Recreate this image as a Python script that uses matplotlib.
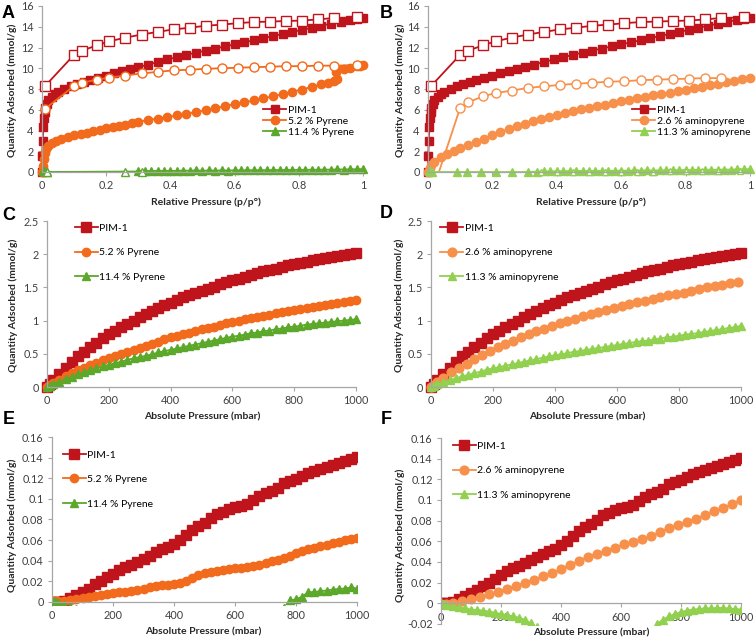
import matplotlib
matplotlib.use("Agg")
import matplotlib.pyplot as plt

plt.rcParams['font.family'] = ['Lato', 'DejaVu Sans']

RED = '#C0141C'
ORANGE = '#F26A1B'
GREEN = '#5BA82A'
LORANGE = '#F7904A'
LGREEN = '#92D050'
AXIS = '#A6A6A6'

# ---- N2 isotherms (panels A, B), relative pressure p/p0 ----
pim_ads_p = [0, 0.001, 0.002, 0.004, 0.006, 0.008, 0.01, 0.015, 0.02, 0.03, 0.04, 0.05,
             0.07, 0.09, 0.11, 0.13, 0.15, 0.175, 0.2, 0.225, 0.25, 0.275, 0.3, 0.33,
             0.36, 0.39, 0.42, 0.45, 0.48, 0.51, 0.54, 0.57, 0.6, 0.63, 0.66, 0.69, 0.72,
             0.75, 0.78, 0.81, 0.84, 0.87, 0.9, 0.93, 0.96, 0.98, 1.0]
pim_ads_q = [0, 1.5, 3.0, 4.3, 5.2, 5.8, 6.2, 6.6, 6.9, 7.2, 7.5, 7.7, 8.0, 8.3, 8.5, 8.7,
             8.9, 9.1, 9.3, 9.5, 9.7, 9.9, 10.1, 10.35, 10.6, 10.85, 11.05, 11.3, 11.5,
             11.7, 11.9, 12.1, 12.3, 12.5, 12.7, 12.9, 13.1, 13.3, 13.5, 13.7, 13.9, 14.1,
             14.3, 14.5, 14.65, 14.75, 14.85]
pim_des_p = [0.01, 0.1, 0.125, 0.17, 0.21, 0.26, 0.31, 0.36, 0.41, 0.46, 0.51, 0.56, 0.61,
             0.66, 0.71, 0.76, 0.81, 0.86, 0.91, 0.98]
pim_des_q = [8.3, 11.3, 11.7, 12.2, 12.6, 12.95, 13.25, 13.5, 13.75, 13.9, 14.1, 14.2,
             14.35, 14.45, 14.5, 14.55, 14.6, 14.7, 14.85, 14.9]

pyr52_ads_p = [0, 0.002, 0.005, 0.008, 0.012, 0.02, 0.03, 0.045, 0.06, 0.08, 0.1, 0.12,
               0.14, 0.16, 0.18, 0.2, 0.22, 0.24, 0.26, 0.28, 0.3, 0.33, 0.36, 0.39, 0.42,
               0.45, 0.48, 0.51, 0.54, 0.57, 0.6, 0.63, 0.66, 0.69, 0.72, 0.75, 0.78, 0.81,
               0.84, 0.87, 0.89, 0.91, 0.92, 0.915, 0.92, 0.94, 0.96, 0.98, 0.99, 1.0]
pyr52_ads_q = [0, 0.6, 1.3, 1.8, 2.2, 2.5, 2.75, 3.0, 3.2, 3.4, 3.6, 3.7, 3.8, 3.95, 4.05,
               4.2, 4.3, 4.45, 4.55, 4.7, 4.85, 5.0, 5.15, 5.3, 5.45, 5.6, 5.8, 5.95, 6.15,
               6.35, 6.55, 6.7, 6.9, 7.1, 7.3, 7.5, 7.75, 7.95, 8.2, 8.45, 8.6, 8.8, 9.0,
               9.6, 9.9, 9.95, 10.05, 10.2, 10.25, 10.3]
pyr52_des_p = [0.01, 0.1, 0.125, 0.17, 0.21, 0.26, 0.31, 0.36, 0.41, 0.46, 0.51, 0.56,
               0.61, 0.66, 0.71, 0.76, 0.81, 0.86, 0.91, 0.98]
pyr52_des_q = [6.1, 8.3, 8.6, 8.9, 9.1, 9.3, 9.5, 9.65, 9.8, 9.85, 9.95, 10.0, 10.05,
               10.1, 10.15, 10.2, 10.2, 10.25, 10.25, 10.3]

pyr114_ads_p = [0.002, 0.006, 0.01, 0.015, 0.3, 0.32, 0.34, 0.36, 0.38, 0.4, 0.42, 0.44,
                0.46, 0.48, 0.5, 0.52, 0.54, 0.56, 0.58, 0.6, 0.62, 0.64, 0.66, 0.68, 0.7,
                0.72, 0.74, 0.76, 0.78, 0.8, 0.82, 0.84, 0.86, 0.88, 0.9, 0.92, 0.94, 0.96,
                0.98, 1.0]
pyr114_ads_q = [0.1, 0.05, 0.05, 0.0, 0.05, 0.1, 0.08, 0.12, 0.1, 0.12, 0.1, 0.14, 0.12,
                0.15, 0.12, 0.15, 0.13, 0.16, 0.14, 0.17, 0.15, 0.18, 0.16, 0.18, 0.17,
                0.2, 0.18, 0.21, 0.19, 0.22, 0.2, 0.23, 0.21, 0.24, 0.22, 0.25, 0.24, 0.27,
                0.26, 0.28]
pyr114_des_p = [0.015, 0.26, 0.31]
pyr114_des_q = [0.0, 0.0, 0.0]

amp26_ads_p = [0, 0.005, 0.01, 0.02, 0.04, 0.06, 0.08, 0.1, 0.125, 0.15, 0.175, 0.2,
               0.225, 0.25, 0.275, 0.3, 0.325, 0.35, 0.375, 0.4, 0.425, 0.45, 0.475, 0.5,
               0.525, 0.55, 0.575, 0.6, 0.625, 0.65, 0.675, 0.7, 0.725, 0.75, 0.775, 0.8,
               0.825, 0.85, 0.875, 0.9, 0.925, 0.95, 0.975, 1.0]
amp26_ads_q = [0, 0.4, 0.7, 1.0, 1.4, 1.7, 2.0, 2.3, 2.6, 2.9, 3.2, 3.55, 3.85, 4.15, 4.4,
               4.65, 4.9, 5.1, 5.3, 5.5, 5.7, 5.9, 6.05, 6.2, 6.35, 6.5, 6.65, 6.8, 6.95,
               7.1, 7.25, 7.4, 7.5, 7.65, 7.8, 7.95, 8.1, 8.2, 8.35, 8.5, 8.65, 8.8, 8.95,
               9.05]
amp26_des_p = [0.035, 0.1, 0.125, 0.17, 0.21, 0.26, 0.31, 0.36, 0.41, 0.46, 0.51, 0.56,
               0.61, 0.66, 0.71, 0.76, 0.81, 0.86, 0.91]
amp26_des_q = [0.1, 6.2, 6.7, 7.3, 7.6, 7.85, 8.1, 8.25, 8.4, 8.5, 8.6, 8.7, 8.75, 8.85,
               8.9, 8.95, 9.0, 9.05, 9.05]

amp113_ads_p = [0.003, 0.007, 0.012, 0.09, 0.12, 0.165, 0.21, 0.26, 0.31, 0.34, 0.36,
                0.38, 0.4, 0.42, 0.44, 0.46, 0.48, 0.5, 0.52, 0.54, 0.56, 0.58, 0.6, 0.62,
                0.64, 0.66, 0.68, 0.7, 0.72, 0.74, 0.76, 0.78, 0.8, 0.82, 0.84, 0.86, 0.88,
                0.9, 0.92, 0.94, 0.96, 0.98, 1.0]
amp113_ads_q = [0.1, 0.05, 0.0, 0.0, 0.0, 0.0, 0.0, 0.0, 0.0, 0.03, 0.06, 0.05, 0.08,
                0.06, 0.1, 0.08, 0.11, 0.09, 0.12, 0.1, 0.13, 0.11, 0.14, 0.12, 0.15, 0.13,
                0.16, 0.14, 0.17, 0.15, 0.18, 0.17, 0.2, 0.18, 0.21, 0.2, 0.23, 0.21, 0.24,
                0.23, 0.26, 0.25, 0.28]
amp113_des_p = [0.35, 0.4, 0.45, 0.5, 0.55, 0.6, 0.65, 0.7, 0.75, 0.8, 0.85, 0.9, 0.97]
amp113_des_q = [0.0, 0.0, 0.02, 0.02, 0.03, 0.03, 0.04, 0.04, 0.05, 0.05, 0.06, 0.06, 0.08]

# ---- CO2 / CH4 isotherms (panels C-F), absolute pressure in mbar ----
p_grid = [0, 10, 20, 40, 60, 80, 100, 120, 140, 160, 180, 200, 220, 240, 260, 280, 300,
          320, 340, 360, 380, 400, 420, 440, 460, 480, 500, 520, 540, 560, 580, 600, 620,
          640, 660, 680, 700, 720, 740, 760, 780, 800, 820, 840, 860, 880, 900, 920, 940,
          960, 980, 1000]

co2_pim = [0, 0.05, 0.1, 0.2, 0.29, 0.38, 0.46, 0.53, 0.6, 0.67, 0.74, 0.8, 0.85, 0.9,
           0.95, 1.0, 1.05, 1.1, 1.14, 1.19, 1.23, 1.27, 1.31, 1.35, 1.38, 1.42, 1.45,
           1.48, 1.51, 1.55, 1.58, 1.61, 1.63, 1.66, 1.69, 1.71, 1.74, 1.76, 1.78, 1.81,
           1.83, 1.85, 1.87, 1.89, 1.91, 1.93, 1.95, 1.96, 1.98, 1.99, 2.01, 2.02]
co2_pyr52 = [0, 0.03, 0.06, 0.11, 0.16, 0.21, 0.25, 0.29, 0.33, 0.36, 0.4, 0.43, 0.47, 0.5,
             0.53, 0.56, 0.59, 0.62, 0.65, 0.68, 0.72, 0.75, 0.77, 0.8, 0.82, 0.85, 0.87,
             0.89, 0.91, 0.94, 0.96, 0.98, 1.0, 1.02, 1.04, 1.05, 1.07, 1.09, 1.11, 1.13,
             1.15, 1.16, 1.18, 1.19, 1.21, 1.22, 1.24, 1.25, 1.27, 1.28, 1.3, 1.31]
co2_pyr114 = [0, 0.02, 0.04, 0.08, 0.12, 0.15, 0.19, 0.22, 0.25, 0.28, 0.31, 0.33, 0.36,
              0.38, 0.41, 0.43, 0.45, 0.47, 0.49, 0.52, 0.54, 0.56, 0.58, 0.6, 0.62, 0.64,
              0.66, 0.68, 0.7, 0.72, 0.74, 0.76, 0.77, 0.79, 0.81, 0.82, 0.84, 0.85, 0.87,
              0.88, 0.9, 0.91, 0.92, 0.94, 0.95, 0.96, 0.97, 0.98, 0.99, 1.0, 1.01, 1.02]
co2_amp113 = [0, 0.02, 0.04, 0.07, 0.1, 0.13, 0.16, 0.18, 0.21, 0.23, 0.26, 0.28, 0.3,
              0.32, 0.34, 0.36, 0.38, 0.4, 0.42, 0.44, 0.46, 0.48, 0.49, 0.51, 0.53, 0.54,
              0.56, 0.57, 0.59, 0.6, 0.62, 0.63, 0.65, 0.66, 0.68, 0.69, 0.7, 0.72, 0.73,
              0.75, 0.76, 0.77, 0.79, 0.8, 0.81, 0.83, 0.84, 0.86, 0.87, 0.89, 0.9, 0.92]
co2_amp26_p = [0, 10, 20, 40, 65, 90, 115, 140, 165, 190, 215, 240, 265, 290, 315, 340,
               365, 390, 415, 440, 465, 490, 515, 540, 565, 590, 615, 640, 665, 690, 715,
               740, 765, 790, 815, 840, 865, 890, 915, 940, 965, 990]
co2_amp26 = [0, 0.03, 0.07, 0.14, 0.22, 0.29, 0.35, 0.42, 0.48, 0.54, 0.6, 0.65, 0.7,
             0.75, 0.8, 0.84, 0.88, 0.92, 0.96, 1.0, 1.03, 1.07, 1.1, 1.13, 1.16, 1.19,
             1.22, 1.25, 1.28, 1.3, 1.33, 1.35, 1.38, 1.4, 1.42, 1.45, 1.47, 1.5, 1.52,
             1.54, 1.56, 1.58]

ch4_pim = [0, 0, 0, 0.001, 0.004, 0.007, 0.01, 0.013, 0.017, 0.02, 0.024, 0.027, 0.031,
           0.034, 0.036, 0.039, 0.042, 0.045, 0.048, 0.051, 0.053, 0.056, 0.06, 0.065,
           0.07, 0.074, 0.077, 0.081, 0.085, 0.087, 0.09, 0.092, 0.093, 0.095, 0.099,
           0.103, 0.106, 0.108, 0.111, 0.115, 0.117, 0.119, 0.122, 0.125, 0.127, 0.129,
           0.131, 0.133, 0.135, 0.137, 0.139, 0.141]
ch4_pyr52 = [0.001, 0.001, 0.001, 0.001, 0.002, 0.003, 0.004, 0.005, 0.006, 0.007, 0.008,
             0.009, 0.0095, 0.01, 0.011, 0.012, 0.013, 0.014, 0.015, 0.016, 0.016, 0.017,
             0.018, 0.02, 0.023, 0.026, 0.028, 0.029, 0.03, 0.031, 0.032, 0.033, 0.033,
             0.034, 0.035, 0.036, 0.038, 0.04, 0.041, 0.043, 0.045, 0.047, 0.049, 0.051,
             0.052, 0.054, 0.055, 0.057, 0.058, 0.06, 0.061, 0.062]
ch4_pyr114 = [0, 0.001, -0.001, -0.003, -0.005, -0.007, -0.008, -0.009, -0.01, -0.011,
              -0.012, -0.013, -0.014, -0.015, -0.016, -0.017, -0.018, -0.019, -0.02, -0.02,
              -0.02, -0.02, -0.02, -0.02, -0.02, -0.02, -0.02, -0.02, -0.019, -0.018,
              -0.017, -0.016, -0.015, -0.014, -0.013, -0.012, -0.011, -0.01, -0.008,
              -0.006, 0.0015, 0.0025, 0.005, 0.0095, 0.0095, 0.0105, 0.011, 0.012, 0.0125,
              0.013, 0.014, 0.013]
ch4_amp113 = [0, -0.0005, -0.002, -0.003, -0.004, -0.005, -0.006, -0.0065, -0.007, -0.008,
              -0.009, -0.0105, -0.0115, -0.0125, -0.014, -0.016, -0.0195, -0.023, -0.026,
              -0.029, -0.031, -0.033, -0.034, -0.035, -0.036, -0.036, -0.036, -0.036,
              -0.035, -0.034, -0.033, -0.032, -0.031, -0.03, -0.028, -0.027, -0.026, -0.02,
              -0.016, -0.0125, -0.0105, -0.0085, -0.007, -0.006, -0.0055, -0.005, -0.0048,
              -0.0045, -0.0045, -0.005, -0.0055, -0.006]
ch4_amp26_p = [0, 15, 40, 70, 100, 130, 160, 190, 220, 250, 280, 310, 340, 370, 400, 430,
               460, 490, 520, 550, 580, 610, 640, 670, 700, 730, 760, 790, 820, 850, 880,
               910, 940, 970, 1000]
ch4_amp26 = [-0.001, -0.001, 0.0, 0.002, 0.004, 0.006, 0.009, 0.011, 0.014, 0.017, 0.02,
             0.023, 0.026, 0.029, 0.033, 0.037, 0.041, 0.045, 0.048, 0.051, 0.054, 0.057,
             0.059, 0.062, 0.065, 0.069, 0.073, 0.076, 0.079, 0.082, 0.085, 0.089, 0.092,
             0.096, 0.1]

W, H = 756, 640
fig = plt.figure(figsize=(W / 100, H / 100), dpi=100)


def make_axes(x0, x1, ytop, ybot, xlim, ylim, xticks, yticks, spine_bounds=None):
    ax = fig.add_axes([x0 / W, 1 - ybot / H, (x1 - x0) / W, (ybot - ytop) / H])
    ax.set_xlim(xlim)
    ax.set_ylim(ylim)
    for s in ('top', 'right'):
        ax.spines[s].set_visible(False)
    ax.spines['bottom'].set_position(('data', 0))
    for s in ('left', 'bottom'):
        ax.spines[s].set_color(AXIS)
        ax.spines[s].set_linewidth(0.9)
    if spine_bounds is not None:
        ax.spines['left'].set_bounds(*spine_bounds)
    ax.set_xticks(xticks)
    ax.set_yticks(yticks)
    ax.set_xticklabels([f'{v:g}' for v in xticks])
    ax.set_yticklabels([f'{v:g}' for v in yticks])
    ax.tick_params(direction='out', length=3, width=0.8, color=AXIS, labelsize=7.8,
                   labelcolor='#404040', pad=3)
    ax.patch.set_visible(False)
    return ax


def label(x, y, text, **kw):
    fig.text(x / W, 1 - y / H, text, ha='center', va='center', **kw)


def series(ax, x, y, color, marker, ms, filled=True, clip=False, lw=1.3, lab=None,
           every=None):
    ax.plot(x, y, color=color, marker=marker, ms=ms, lw=lw, clip_on=clip,
            mfc=color if filled else 'white', mec=color, mew=1.0, label=lab,
            markevery=every)


def legend(ax, x, y, spacing):
    ax.legend(loc='upper left', bbox_to_anchor=(x, y), frameon=False, fontsize=7.5,
              handlelength=2.2, handletextpad=0.15, labelspacing=spacing, borderpad=0,
              borderaxespad=0)


rel_ticks = [0, 0.2, 0.4, 0.6, 0.8, 1]
n2_yticks = [0, 2, 4, 6, 8, 10, 12, 14, 16]
abs_ticks = [0, 200, 400, 600, 800, 1000]
co2_yticks = [0, 0.5, 1, 1.5, 2, 2.5]
ch4_yticks = [0, 0.02, 0.04, 0.06, 0.08, 0.1, 0.12, 0.14, 0.16]
ch4f_yticks = [-0.02, 0, 0.02, 0.04, 0.06, 0.08, 0.1, 0.12, 0.14, 0.16]

# A
axA = make_axes(42, 363, 6, 172, (0, 1), (0, 16), rel_ticks, n2_yticks)
series(axA, pim_ads_p, pim_ads_q, RED, 's', 6, lab='PIM-1')
series(axA, pim_des_p, pim_des_q, RED, 's', 6.5, filled=False)
series(axA, pyr52_ads_p, pyr52_ads_q, ORANGE, 'o', 6, lab='5.2 % Pyrene')
series(axA, pyr52_des_p, pyr52_des_q, ORANGE, 'o', 6.5, filled=False)
series(axA, pyr114_ads_p, pyr114_ads_q, GREEN, '^', 5.5, lab='11.4 % Pyrene')
series(axA, pyr114_des_p, pyr114_des_q, GREEN, '^', 5.5, filled=False)
legend(axA, 0.69, 0.40, 0.15)

# B
axB = make_axes(428, 750, 6, 172, (0, 1), (0, 16), rel_ticks, n2_yticks)
series(axB, pim_ads_p, pim_ads_q, RED, 's', 6, lab='PIM-1')
series(axB, pim_des_p, pim_des_q, RED, 's', 6.5, filled=False)
series(axB, amp26_ads_p, amp26_ads_q, LORANGE, 'o', 6, lab='2.6 % aminopyrene')
series(axB, amp26_des_p, amp26_des_q, LORANGE, 'o', 6.5, filled=False,
       every=list(range(1, len(amp26_des_p))))
series(axB, amp113_ads_p, amp113_ads_q, LGREEN, '^', 5.5, lab='11.3 % aminopyrene')
series(axB, amp113_des_p, amp113_des_q, LGREEN, '^', 5, filled=False)
legend(axB, 0.635, 0.40, 0.15)

# C
axC = make_axes(47, 356, 221, 387, (0, 1000), (0, 2.5), abs_ticks, co2_yticks)
series(axC, p_grid, co2_pim, RED, 's', 6.5, lab='PIM-1')
series(axC, p_grid, co2_pyr52, ORANGE, 'o', 6, lab='5.2 % Pyrene')
series(axC, p_grid, co2_pyr114, GREEN, '^', 6, lab='11.4 % Pyrene')
legend(axC, 0.09, 0.985, 1.45)

# D
axD = make_axes(431, 741, 221, 387, (0, 1000), (0, 2.5), abs_ticks, co2_yticks)
series(axD, p_grid, co2_pim, RED, 's', 6.5, lab='PIM-1')
series(axD, co2_amp26_p, co2_amp26, LORANGE, 'o', 6.3, lab='2.6 % aminopyrene')
series(axD, p_grid, co2_amp113, LGREEN, '^', 6, lab='11.3 % aminopyrene')
legend(axD, 0.03, 0.985, 1.45)

# E
axE = make_axes(52, 357, 437, 605, (0, 1000), (-0.003, 0.16), abs_ticks, ch4_yticks,
                spine_bounds=(0, 0.16))
series(axE, p_grid, ch4_pim, RED, 's', 6.5, clip=True, lab='PIM-1')
series(axE, p_grid, ch4_pyr52, ORANGE, 'o', 6, clip=True, lab='5.2 % Pyrene')
series(axE, p_grid, ch4_pyr114, GREEN, '^', 6, clip=True, lab='11.4 % Pyrene')
legend(axE, 0.036, 0.92, 1.45)

# F
axF = make_axes(441, 741, 438, 624.5, (0, 1000), (-0.0205, 0.16), abs_ticks, ch4f_yticks,
                spine_bounds=(-0.02, 0.16))
series(axF, p_grid, ch4_pim, RED, 's', 6.5, clip=True, lab='PIM-1')
series(axF, ch4_amp26_p, ch4_amp26, LORANGE, 'o', 6.3, clip=True, lab='2.6 % aminopyrene')
series(axF, p_grid, ch4_amp113, LGREEN, '^', 6, clip=True, lab='11.3 % aminopyrene')
legend(axF, 0.04, 0.98, 1.45)

# axis titles
bold = dict(fontsize=7.5, fontweight='bold', color='#262626')
label(206, 202, 'Relative Pressure (p/p°)', **bold)
label(591, 202, 'Relative Pressure (p/p°)', **bold)
label(202, 417, 'Absolute Pressure (mbar)', **bold)
label(587, 417, 'Absolute Pressure (mbar)', **bold)
label(203, 632, 'Absolute Pressure (mbar)', **bold)
label(591, 633, 'Absolute Pressure (mbar)', **bold)
for x, y in [(12, 90), (400, 90), (13, 305), (399, 305), (12, 525), (400, 535)]:
    label(x, y, 'Quantity Adsorbed (mmol/g)', rotation=90, **bold)

# panel letters
letters = dict(fontsize=13, fontweight='bold', color='black', family='Liberation Sans')
for x, y, t in [(8, 13, 'A'), (386, 13, 'B'), (9, 215, 'C'), (386, 214, 'D'),
                (9, 420, 'E'), (386, 420, 'F')]:
    label(x, y, t, **letters)

fig.savefig('out.png', dpi=100)
